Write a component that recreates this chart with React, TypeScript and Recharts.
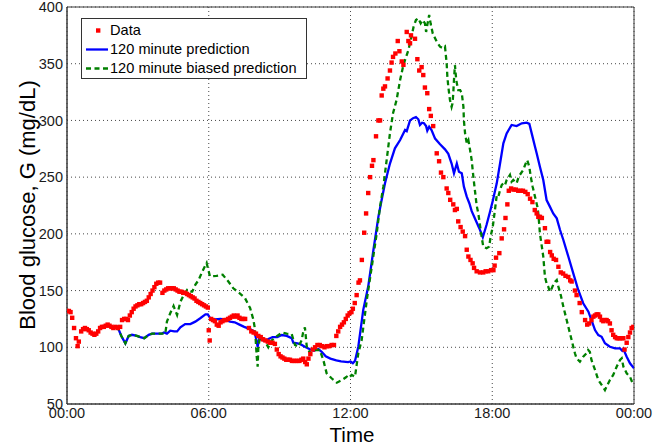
import React from 'react';
import {
  ComposedChart, Line, Scatter, XAxis, YAxis, CartesianGrid, ReferenceArea, Legend,
} from 'recharts';

// ---- Measured glucose (red dots) ----
const dataHours = [
  0.00, 0.08, 0.15, 0.22, 0.30, 0.38, 0.45, 0.50, 0.60, 0.68,
  0.76, 0.84, 0.92, 1.00, 1.08, 1.16, 1.24, 1.32, 1.40, 1.48,
  1.56, 1.64, 1.72, 1.80, 1.88, 1.96, 2.05, 2.15, 2.25, 2.33,
  2.42, 2.50, 2.58, 2.66, 2.74, 2.82, 2.90, 2.98, 3.06, 3.14,
  3.22, 3.30, 3.38, 3.46, 3.54, 3.62, 3.70, 3.78, 3.86, 3.94,
  4.04, 4.12, 4.20, 4.28, 4.36, 4.44, 4.52, 4.60, 4.68, 4.76,
  4.84, 4.92, 5.00, 5.08, 5.16, 5.24, 5.32, 5.40, 5.48, 5.56,
  5.64, 5.72, 5.80, 5.88, 5.96, 6.00, 6.04, 6.10, 6.18, 6.26,
  6.34, 6.42, 6.50, 6.58, 6.66, 6.74, 6.82, 6.90, 6.98, 7.06,
  7.14, 7.22, 7.30, 7.38, 7.46, 7.54, 7.70, 7.80, 7.90, 8.00,
  8.10, 8.20, 8.30, 8.40, 8.50, 8.60, 8.70, 8.80, 8.88, 8.96,
  9.04, 9.12, 9.20, 9.28, 9.36, 9.44, 9.52, 9.60, 9.68, 9.76,
  9.84, 9.92, 10.00, 10.08, 10.15, 10.22, 10.30, 10.40, 10.50, 10.60,
  10.70, 10.80, 10.90, 11.00, 11.10, 11.20, 11.30, 11.40, 11.48, 11.56,
  11.64, 11.72, 11.80, 11.88, 11.96, 12.04, 12.10, 12.18, 12.26, 12.34,
  12.40, 12.48, 12.58, 12.66, 12.75, 12.83, 12.91, 12.97, 13.08, 13.18,
  13.25, 13.32, 13.39, 13.46, 13.57, 13.67, 13.74, 13.80, 13.90, 14.00,
  14.07, 14.17, 14.24, 14.38, 14.45, 14.52, 14.56, 14.73, 14.83, 14.91,
  15.01, 15.08, 15.15, 15.25, 15.33, 15.40, 15.50, 15.65, 15.75, 15.83,
  15.93, 16.07, 16.14, 16.22, 16.35, 16.42, 16.50, 16.56, 16.66, 16.75,
  16.85, 16.92, 16.99, 17.08, 17.17, 17.23, 17.34, 17.48, 17.62, 17.72,
  17.83, 17.95, 18.05, 18.10, 18.16, 18.30, 18.40, 18.50, 18.56, 18.64,
  18.70, 18.80, 18.90, 19.00, 19.10, 19.20, 19.30, 19.40, 19.50, 19.60,
  19.70, 19.80, 19.88, 19.95, 20.02, 20.10, 20.23, 20.30, 20.37, 20.45,
  20.52, 20.60, 20.70, 20.80, 20.90, 21.00, 21.10, 21.22, 21.30, 21.36,
  21.50, 21.57, 21.70, 21.79, 21.93, 22.02, 22.10, 22.20, 22.28, 22.35,
  22.42, 22.49, 22.56, 22.63, 22.70, 22.77, 22.84, 22.90, 22.98, 23.05,
  23.12, 23.20, 23.27, 23.34, 23.40, 23.48, 23.55, 23.60, 23.69, 23.76,
  23.83, 23.90, 23.97,
];
const dataGlucose = [
  132, 132, 131, 126, 117, 108, 101, 105, 114, 116,
  117, 116, 115, 113, 112, 111, 112, 114, 117, 118,
  118, 119, 120, 119, 118, 117, 118, 117, 118, 124,
  125, 125, 124, 128, 131, 134, 136, 137, 138, 138,
  139, 140, 141, 144, 147, 150, 153, 156, 157, 157,
  148, 150, 151, 152, 152, 152, 152, 151, 150, 149,
  149, 148, 148, 147, 146, 145, 144, 143, 141, 140,
  139, 138, 137, 136, 135, 115, 106, 125, 124, 123,
  120, 119, 122, 123, 124, 124, 125, 126, 127, 128,
  127, 128, 126, 125, 125, 125, 117, 114, 113, 112,
  110, 109, 107, 106, 105, 104, 104, 103, 98, 94,
  92, 91, 90, 89, 89, 89, 88, 88, 88, 88,
  88, 89, 90, 87, 85, 90, 94, 98, 100, 102,
  102, 101, 100, 101, 101, 102, 102, 110, 114, 118,
  120, 122, 125, 128, 130, 131, 134, 139, 146, 157,
  159, 177, 201, 218, 236, 250, 260, 265, 286, 300,
  300, 322, 328, 330, 337, 344, 351, 356, 359, 370,
  361, 352, 349, 378, 370, 368, 375, 372, 354, 344,
  347, 340, 329, 324, 310, 304, 295, 271, 264, 254,
  250, 240, 236, 230, 226, 221, 222, 211, 206, 202,
  198, 186, 180, 177, 174, 170, 167, 166, 166, 167,
  167, 168, 168, 172, 179, 183, 196, 204, 214, 226,
  238, 240, 239, 239, 238, 238, 238, 237, 235, 231,
  228, 221, 218, 215, 215, 214, 205, 193, 193, 184,
  181, 178, 177, 171, 166, 165, 163, 162, 159, 158,
  150, 146, 139, 131, 124, 120, 121, 124, 127, 128,
  129, 129, 127, 124, 123, 124, 124, 123, 121, 115,
  111, 109, 108, 108, 108, 108, 108, 98, 104, 109,
  113, 117, 118,
];

// ---- 120 minute prediction (blue) ----
const predHours = [
  2.12, 2.30, 2.47, 2.61, 2.75, 2.96, 3.10, 3.27, 3.46, 3.60,
  3.80, 4.00, 4.10, 4.23, 4.37, 4.54, 4.66, 4.80, 5.00, 5.22,
  5.43, 5.64, 5.86, 5.96, 6.05, 6.14, 6.26, 6.50, 6.69, 6.90,
  7.10, 7.30, 7.50, 7.75, 7.93, 8.00, 8.07, 8.14, 8.31, 8.50,
  8.70, 8.90, 9.09, 9.30, 9.51, 9.58, 9.86, 10.07, 10.30, 10.45,
  10.64, 10.78, 10.95, 11.15, 11.40, 11.60, 11.90, 12.00, 12.10, 12.19,
  12.33, 12.54, 12.75, 12.97, 13.18, 13.32, 13.46, 13.67, 13.88, 14.10,
  14.31, 14.38, 14.52, 14.65, 14.77, 14.87, 14.94, 15.03, 15.11, 15.20,
  15.25, 15.33, 15.43, 15.58, 15.79, 16.00, 16.14, 16.28, 16.38, 16.50,
  16.59, 16.71, 16.80, 16.92, 17.03, 17.13, 17.30, 17.45, 17.60, 17.76,
  17.90, 18.02, 18.19, 18.33, 18.47, 18.61, 18.82, 19.03, 19.25, 19.46,
  19.57, 19.67, 19.81, 19.88, 20.02, 20.16, 20.30, 20.44, 20.58, 20.73,
  20.87, 21.01, 21.22, 21.43, 21.64, 21.85, 22.07, 22.20, 22.35, 22.49,
  22.63, 22.77, 22.98, 23.20, 23.41, 23.50, 23.55, 23.69, 23.83, 24.00,
];
const predGlucose = [
  119, 110, 103.5, 110, 111, 110, 109, 108, 111, 112,
  112, 112, 113, 112, 114.6, 114, 114, 117.6, 120.5, 120.5,
  122.6, 125.6, 129, 129, 126, 124, 124.5, 125, 124.5, 122.6,
  122, 120, 118, 116, 114, 108, 100.5, 108, 106, 107,
  109, 109, 110.8, 110, 108, 104, 103, 100.5, 98, 97,
  98.5, 96, 92, 90, 88.5, 87.5, 87, 87.5, 86, 88,
  100.5, 133, 153.5, 185.8, 215, 230, 244.6, 262, 275.4, 282.7,
  291.5, 290.5, 300, 302, 303, 301, 296, 298, 297.5, 295,
  291, 294.5, 291.5, 284, 279, 274.5, 270.5, 262, 253.4, 262,
  254.8, 253.4, 241.6, 232.8, 227, 220, 212, 205, 197, 208,
  219, 229, 244.5, 262, 279.8, 288.6, 296, 295, 297.5, 298,
  297, 288.6, 276.8, 271, 259, 247.5, 229.8, 224, 218, 213.7,
  203.4, 194.6, 180, 165.2, 150.5, 138.8, 131.4, 124, 115.2, 110.8,
  109.3, 103.5, 100.5, 99, 99, 97, 98.5, 91.7, 85.9, 81.5,
];

// ---- 120 minute biased prediction (green dashed) ----
const biasHours = [
  2.12, 2.30, 2.47, 2.61, 2.75, 2.96, 3.10, 3.27, 3.46, 3.60,
  3.80, 4.00, 4.16, 4.23, 4.37, 4.51, 4.66, 4.80, 4.94, 5.08,
  5.15, 5.30, 5.43, 5.57, 5.71, 5.85, 5.91, 6.05, 6.33, 6.59,
  6.83, 7.04, 7.30, 7.53, 7.75, 7.89, 7.96, 8.03, 8.07, 8.10,
  8.17, 8.31, 8.52, 8.66, 8.90, 9.10, 9.30, 9.51, 9.65, 9.79,
  9.93, 10.00, 10.07, 10.15, 10.29, 10.50, 10.70, 10.85, 10.99, 11.20,
  11.42, 11.63, 11.84, 11.91, 12.05, 12.19, 12.26, 12.33, 12.47, 12.69,
  12.90, 13.11, 13.25, 13.39, 13.53, 13.67, 13.80, 13.95, 14.10, 14.24,
  14.31, 14.45, 14.55, 14.67, 14.77, 14.87, 14.97, 15.06, 15.15, 15.20,
  15.25, 15.33, 15.39, 15.48, 15.58, 15.65, 15.79, 15.93, 16.00, 16.07,
  16.10, 16.14, 16.21, 16.28, 16.32, 16.35, 16.38, 16.42, 16.47, 16.50,
  16.56, 16.64, 16.71, 16.78, 16.80, 16.85, 16.92, 16.99, 17.06, 17.13,
  17.20, 17.28, 17.34, 17.41, 17.48, 17.55, 17.62, 17.76, 17.87, 17.93,
  18.02, 18.12, 18.19, 18.26, 18.33, 18.40, 18.47, 18.54, 18.61, 18.75,
  18.82, 18.89, 18.96, 19.03, 19.10, 19.17, 19.31, 19.39, 19.48, 19.57,
  19.63, 19.71, 19.81, 19.91, 19.95, 20.02, 20.09, 20.16, 20.23, 20.30,
  20.37, 20.44, 20.52, 20.58, 20.66, 20.73, 20.80, 20.90, 21.01, 21.15,
  21.29, 21.43, 21.50, 21.57, 21.71, 21.85, 21.99, 22.06, 22.13, 22.20,
  22.35, 22.49, 22.63, 22.77, 22.84, 22.98, 23.12, 23.27, 23.41, 23.48,
  23.55, 23.69, 23.83, 23.97,
];
const biasGlucose = [
  119, 110, 103.5, 110, 111, 110, 109, 108, 111, 112,
  112, 112, 112, 122.6, 130, 136.4, 128.5, 140, 146, 150.5,
  149, 149, 155, 159.3, 166, 172, 174.3, 162.6, 163, 164,
  158, 152, 147.8, 143.5, 134.6, 124.3, 115.5, 92, 82.9, 100.5,
  109, 108, 100, 106, 110, 113, 112, 111.7, 102, 100.5,
  106, 113.8, 117.6, 100.5, 94.7, 97.6, 97.6, 88.8, 77, 72.7,
  68.8, 71, 74, 72.7, 75.6, 74, 84.4, 94.7, 106, 141.7,
  171, 200.5, 224, 241.6, 265, 288.6, 306.3, 318, 335.6, 348.9,
  353.3, 362, 371, 382.6, 388.5, 390, 385.6, 388.5, 385.6, 378,
  384, 393, 385.6, 376.8, 372.4, 369.4, 365, 363.6, 365, 350.4,
  338.6, 329.7, 318, 312, 315, 324, 335.6, 348.9, 337, 332.7,
  326.8, 326.8, 324, 312, 300, 288.6, 279.8, 282.7, 274, 265,
  250.4, 235.8, 225, 218, 207.8, 197.5, 188.7, 187.3, 188.7, 197.5,
  206, 222, 234, 232.8, 238.7, 243, 244.6, 243, 247.5, 252,
  246, 247.5, 246, 244.6, 249, 252, 256.3, 260.7, 265, 259,
  250.4, 241.6, 232.8, 224, 218, 200, 190, 180, 162.2, 156.4,
  153.5, 149, 152, 155, 157.8, 159.3, 153.5, 146, 135.8, 124,
  112.3, 100.5, 94.7, 90.3, 87.3, 91.7, 94.7, 97.6, 96, 88.8,
  80, 71.2, 66.8, 62.3, 65.3, 71.2, 75.6, 83, 88.8, 90.3,
  83, 77, 74, 66.8,
];

// ---- Axes ----
const xTicks = [0, 6, 12, 18, 24];
const xTickLabels = ['00:00', '06:00', '12:00', '18:00', '00:00'];
const yTicks = [50, 100, 150, 200, 250, 300, 350, 400];

const seriesNames = ['Data', '120 minute prediction', '120 minute biased prediction'];
const RED = '#ff0000';
const BLUE = '#0000ff';
const GREEN = '#008000';
const FONT = '"Liberation Sans", Arial, Helvetica, sans-serif';

function zip(hours: number[], values: number[]) {
  const n = Math.min(hours.length, values.length);
  const out: { t: number; v: number }[] = [];
  for (let i = 0; i < n; i++) out.push({ t: hours[i], v: values[i] });
  return out;
}

const dataPoints = zip(dataHours, dataGlucose);
const predPoints = zip(predHours, predGlucose);
const biasPoints = zip(biasHours, biasGlucose);

const SquareDot = (props: any) => {
  const { cx, cy } = props;
  if (cx == null || cy == null) return null;
  return <rect x={cx - 2.2} y={cy - 2.2} width={4.4} height={4.4} fill={RED} />;
};

const LegendBox = () => (
  <div
    style={{
      width: 224,
      height: 59,
      border: '1px solid #333',
      background: '#fff',
      position: 'relative',
      fontFamily: FONT,
      fontSize: 14.6,
      color: '#000',
      lineHeight: '19px',
    }}
  >
    {seriesNames.map((name, i) => (
      <div key={name} style={{ position: 'absolute', left: 0, top: 2 + i * 19, height: 19, width: 224 }}>
        <svg width={26} height={19} style={{ position: 'absolute', left: 3, top: 0 }}>
          {i === 0 && <rect x={11} y={7.3} width={4.4} height={4.4} fill={RED} />}
          {i === 1 && <line x1={1} x2={23} y1={9.5} y2={9.5} stroke={BLUE} strokeWidth={2.3} />}
          {i === 2 && (
            <line x1={1} x2={23} y1={9.5} y2={9.5} stroke={GREEN} strokeWidth={2.3} strokeDasharray="5 3.5" />
          )}
        </svg>
        <span style={{ position: 'absolute', left: 28, top: 0, whiteSpace: 'nowrap' }}>{name}</span>
      </div>
    ))}
  </div>
);

export default function App() {
  return (
    <div style={{ position: 'absolute', left: 0, top: 0, width: 662, height: 446, background: '#fff' }}>
      <ComposedChart
        width={662}
        height={446}
        margin={{ top: 7, right: 28, left: 27, bottom: 12 }}
        style={{ fontFamily: FONT }}
      >
        <CartesianGrid stroke="#333" strokeDasharray="1 3" strokeWidth={0.9} />
        <XAxis
          type="number"
          dataKey="t"
          domain={[0, 24]}
          ticks={xTicks}
          tickFormatter={(v: number) => xTickLabels[xTicks.indexOf(v)]}
          interval={0}
          height={30}
          tickSize={0}
          tickMargin={4}
          tickLine={false}
          axisLine={{ stroke: '#3a3a3a' }}
          tick={{ fill: '#1a1a1a', fontSize: 14.5, fontFamily: FONT }}
          allowDataOverflow
          label={{
            content: () => (
              <text x={352} y={442} textAnchor="middle" fontSize={20.5} fill="#000" fontFamily={FONT}>
                Time
              </text>
            ),
          }}
        />
        <YAxis
          type="number"
          dataKey="v"
          domain={[50, 400]}
          ticks={yTicks}
          interval={0}
          width={40}
          tickSize={0}
          tickMargin={4}
          tickLine={false}
          axisLine={{ stroke: '#3a3a3a' }}
          tick={{ fill: '#1a1a1a', fontSize: 14.5, fontFamily: FONT }}
          allowDataOverflow
          label={{
            content: () => (
              <text
                x={35}
                y={205}
                textAnchor="middle"
                fontSize={22}
                fill="#000"
                fontFamily={FONT}
                transform="rotate(-90 35 205)"
              >
                Blood glucose, G (mg/dL)
              </text>
            ),
          }}
        />
        <ReferenceArea x1={0} x2={24} y1={50} y2={400} fill="none" fillOpacity={0} stroke="#3a3a3a" strokeWidth={1} />
        <Scatter
          name={seriesNames[0]}
          data={dataPoints}
          dataKey="v"
          fill={RED}
          shape={SquareDot}
          isAnimationActive={false}
        />
        <Line
          name={seriesNames[1]}
          data={predPoints}
          dataKey="v"
          type="linear"
          stroke={BLUE}
          strokeWidth={2.3}
          dot={false}
          activeDot={false}
          isAnimationActive={false}
        />
        <Line
          name={seriesNames[2]}
          data={biasPoints}
          dataKey="v"
          type="linear"
          stroke={GREEN}
          strokeWidth={2.3}
          strokeDasharray="5 3.5"
          dot={false}
          activeDot={false}
          isAnimationActive={false}
        />
        <Legend
          layout="horizontal"
          verticalAlign="middle"
          align="center"
          wrapperStyle={{ left: 81, top: 18, width: 226, height: 61 }}
          content={() => <LegendBox />}
        />
      </ComposedChart>
    </div>
  );
}
